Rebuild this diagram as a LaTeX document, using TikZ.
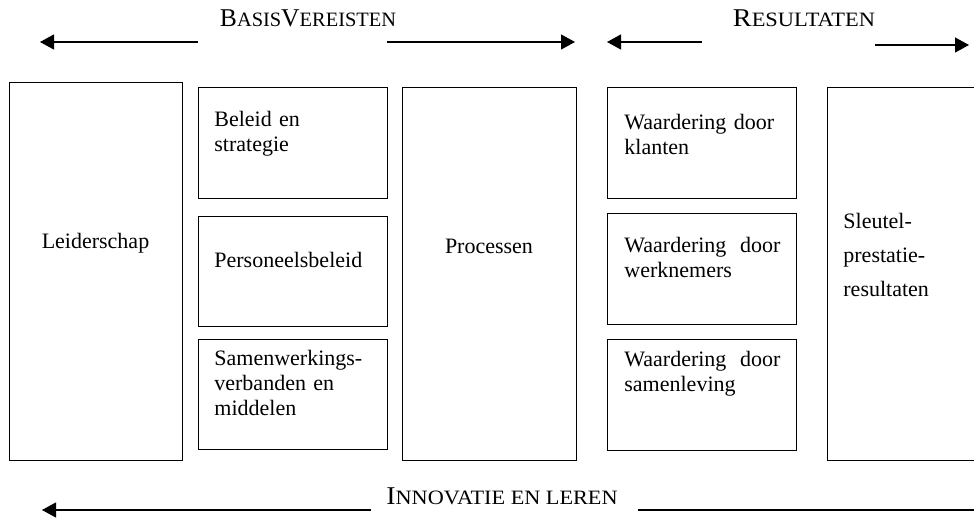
\documentclass[tikz,border=0pt]{standalone}
\usepackage{fontspec}
\setmainfont{Liberation Serif}
\usetikzlibrary{arrows.meta}
\newcommand{\klein}{\fontsize{10.2}{12}\selectfont}

\begin{document}
\begin{tikzpicture}[x=0.5pt,y=-0.5pt,
  blok/.style={draw,line width=0.6pt,inner sep=0pt,anchor=north west},
  tekst/.style={inner sep=0pt,font=\fontsize{11}{12.5}\selectfont},
  kop/.style={inner sep=0pt,anchor=base,font=\fontsize{12.8}{14}\selectfont},
  pijl/.style={line width=0.6pt,-{Triangle[length=7pt,width=7.5pt]}}]
\clip (0,0) rectangle (974,518);
% blokken
\foreach \naam/\x/\y/\b/\h in {leider/9/82/173/378, beleid/198/87/189/111,
  personeel/198/216/189/110, middel/198/339/189/110, proces/402/87/174/373,
  klant/607/87/189/111, werknemer/607/213/189/111, samenleving/607/339/189/111,
  sleutel/827/87/170/373} {
  \node[blok,minimum width=\b*0.5pt,minimum height=\h*0.5pt] (\naam) at (\x,\y) {};
}
% teksten in de blokken
\node[tekst,anchor=base] (tleider) at (95.5,249) {Leiderschap};
\node[tekst,anchor=base] (tproces) at (489,254) {Processen};
\node[tekst,anchor=base west,text width=80pt,align=left] (tbeleid) at (214,127) {Beleid en\\ strategie};
\node[tekst,anchor=base west] (tpersoneel) at (214,268) {Personeelsbeleid};
\node[tekst,anchor=base west,text width=80pt,align=left] (tmiddel) at (214,365) {Samenwerkings-\\ verbanden en\\ middelen};
\node[tekst,anchor=base west,text width=80pt,align=left] (tklant) at (624,130) {Waardering door\\ klanten};
\node[tekst,anchor=base west,text width=78pt,align=justify] (twerknemer) at (624,253) {Waardering door werknemers};
\node[tekst,anchor=base west,text width=78pt,align=justify] (tsamenleving) at (624,366) {Waardering door samenleving};
\node[tekst,anchor=base west,text width=60pt,align=left] (tsleutel) at (843,229) {Sleutel-\\[4.5pt] prestatie-\\[4.5pt] resultaten};
% koppen en pijlen
\node[kop] (basis) at (308,27) {B{\klein ASIS}V{\klein EREISTEN}};
\node[kop,xscale=1.1] (resultaten) at (804,27) {R{\klein ESULTATEN}};
\node[kop,xscale=1.09] (innovatie) at (502,504) {I{\klein NNOVATIE EN LEREN}};
\coordinate (b1) at (198,42);
\coordinate (b2) at (40,42);
\coordinate (b3) at (387,42);
\coordinate (b4) at (575,42);
\coordinate (r1) at (702,42);
\coordinate (r2) at (607,42);
\coordinate (r3) at (875,45);
\coordinate (r4) at (969,45);
\coordinate (i1) at (371,510);
\coordinate (i2) at (42,510);
\coordinate (i3) at (638,510);
\coordinate (i4) at (980,510);
\draw[pijl] (b1) -- (b2);
\draw[pijl] (b3) -- (b4);
\draw[pijl] (r1) -- (r2);
\draw[pijl] (r3) -- (r4);
\draw[pijl] (i1) -- (i2);
\draw[line width=0.6pt] (i3) -- (i4);
\end{tikzpicture}
\end{document}
